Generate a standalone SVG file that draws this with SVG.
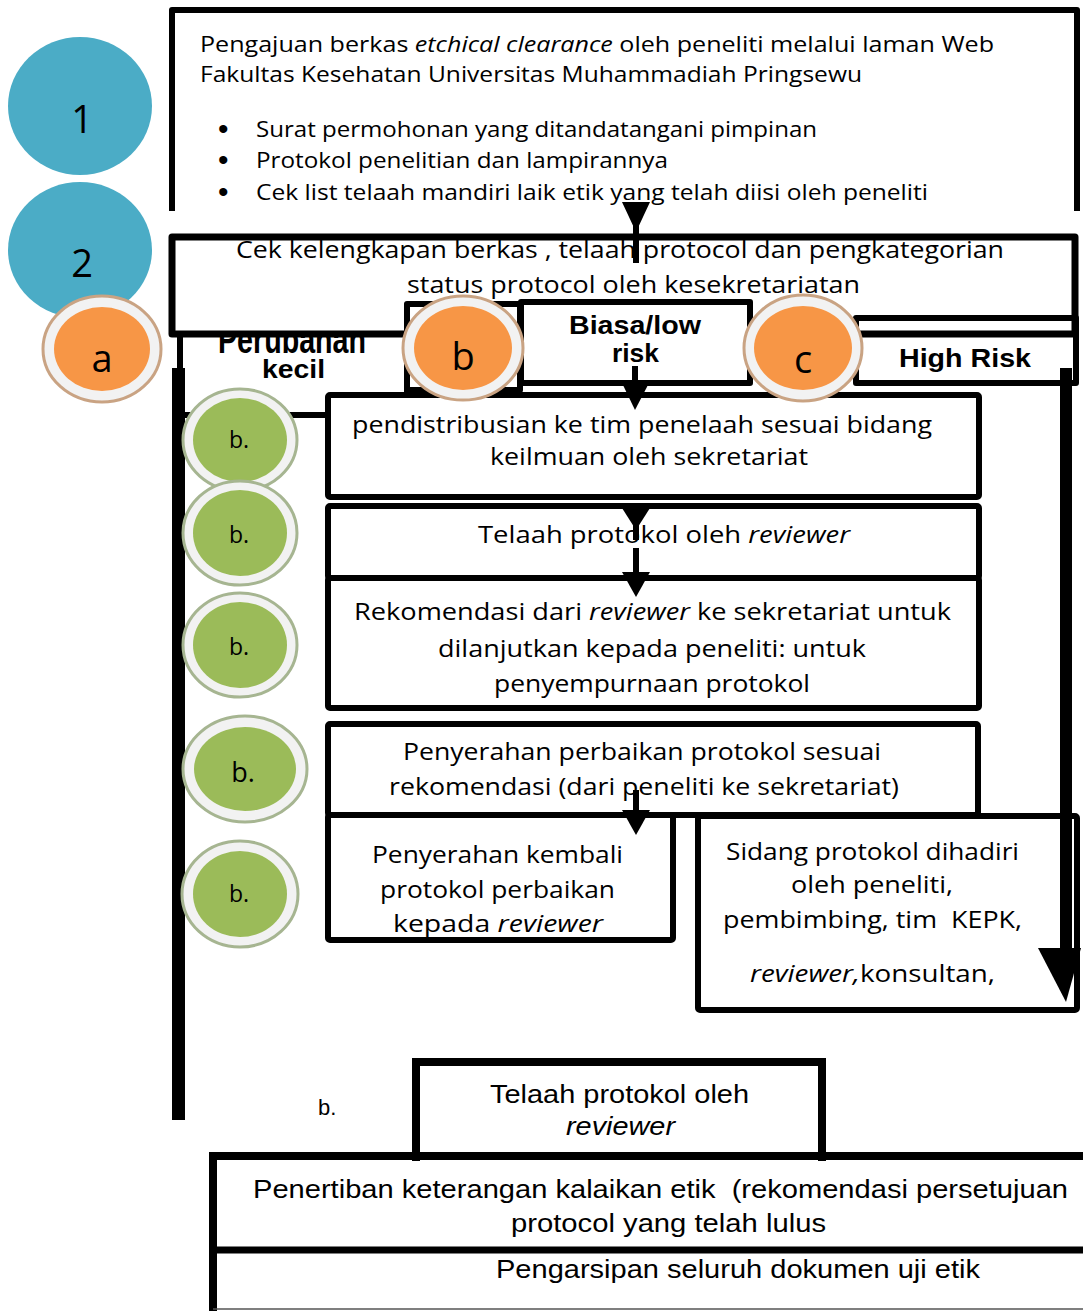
<svg xmlns="http://www.w3.org/2000/svg" width="1083" height="1311" viewBox="0 0 1083 1311">
<defs>
<style>
.bx{fill:#fff;stroke:#000;stroke-width:6;stroke-linejoin:round}
.bxn{fill:none;stroke:#000;stroke-width:6;stroke-linejoin:round}
.t{font-family:"Open Sans","Noto Sans",sans-serif;font-size:23px;fill:#000}
.tb{font-family:"Open Sans","Noto Sans",sans-serif;font-size:22px;fill:#000}
.bul{font-family:"Liberation Sans",Arial,sans-serif;font-size:30px;fill:#000}
.hb{font-family:"Liberation Sans",Arial,sans-serif;font-weight:bold;font-size:26px;fill:#000}
.ar{font-family:"Liberation Sans",Arial,sans-serif;font-size:26px;fill:#000}
.i{font-style:italic}
.big{font-family:"Open Sans","Noto Sans",sans-serif;font-size:38px;fill:#000;text-anchor:middle}
.lbl{font-family:"Open Sans","Noto Sans",sans-serif;font-size:23px;fill:#000;text-anchor:middle}
.teal{fill:#4BACC6}
.ringO{fill:#F2F2F2;stroke:#C9A383;stroke-width:3}
.or{fill:#F79646}
.ringG{fill:#F2F2F2;stroke:#A6B591;stroke-width:3}
.gr{fill:#9BBB59}
.ln{stroke:#000;stroke-width:6;fill:none}
</style>
</defs>

<!-- Top box (open bottom) -->
<g id="node-pengajuan">
<path class="bxn" d="M172,211 V10 H1077 V211"/>
<text class="tb" x="200" y="52" textLength="794" lengthAdjust="spacingAndGlyphs">Pengajuan berkas <tspan class="i">etchical clearance</tspan> oleh peneliti melalui laman Web</text>
<text class="tb" x="200" y="82" textLength="662" lengthAdjust="spacingAndGlyphs">Fakultas Kesehatan Universitas Muhammadiah Pringsewu</text>
<text class="bul" x="218" y="139">•</text>
<text class="bul" x="218" y="170">•</text>
<text class="bul" x="218" y="202">•</text>
<text class="tb" x="256" y="137" textLength="561" lengthAdjust="spacingAndGlyphs">Surat permohonan yang ditandatangani pimpinan</text>
<text class="tb" x="256" y="168" textLength="412" lengthAdjust="spacingAndGlyphs">Protokol penelitian dan lampirannya</text>
<text class="tb" x="256" y="200" textLength="672" lengthAdjust="spacingAndGlyphs">Cek list telaah mandiri laik etik yang telah diisi oleh peneliti</text>
</g>

<!-- Perubahan kecil box (partly covered) -->
<g id="node-perubahan">
<rect class="bx" x="180" y="333" width="227" height="82"/>
<text class="hb" transform="translate(218,353) scale(1,1.5)" x="0" y="0" textLength="148" lengthAdjust="spacingAndGlyphs">Perubahan</text>
</g>

<!-- Cek kelengkapan box -->
<g id="node-cek">
<rect class="bx" x="172" y="237" width="903" height="97" style="stroke-width:7"/>
<text class="t" x="236" y="258" textLength="768" lengthAdjust="spacingAndGlyphs">Cek kelengkapan berkas , telaah protocol dan pengkategorian</text>
<text class="t" x="407" y="293" textLength="453" lengthAdjust="spacingAndGlyphs">status protocol oleh kesekretariatan</text>
</g>

<g id="node-kecil">
<text class="hb" x="262" y="378" textLength="63" lengthAdjust="spacingAndGlyphs">kecil</text>
</g>

<!-- b square -->
<g id="node-b-box">
<rect class="bx" x="407" y="304" width="113" height="86"/>
</g>

<!-- Biasa/low risk -->
<g id="node-biasa">
<rect class="bx" x="521" y="302" width="229" height="81"/>
<text class="hb" x="569" y="334" textLength="132" lengthAdjust="spacingAndGlyphs">Biasa/low</text>
<text class="hb" x="612" y="362" textLength="47" lengthAdjust="spacingAndGlyphs">risk</text>
</g>

<!-- High Risk -->
<g id="node-high">
<rect class="bxn" x="856" y="318" width="220" height="65"/>
<text class="hb" x="899" y="367" textLength="132" lengthAdjust="spacingAndGlyphs">High Risk</text>
</g>

<!-- pendistribusian -->
<g id="node-pendistribusian">
<rect class="bx" x="328" y="395" width="651" height="102" rx="2"/>
<text class="t" x="352" y="433" textLength="580" lengthAdjust="spacingAndGlyphs">pendistribusian ke tim penelaah sesuai bidang</text>
<text class="t" x="490" y="465" textLength="318" lengthAdjust="spacingAndGlyphs">keilmuan oleh sekretariat</text>
</g>

<!-- Telaah protokol -->
<g id="node-telaah">
<rect class="bx" x="328" y="506" width="651" height="72" rx="2"/>
<text class="t" x="478" y="543" textLength="372" lengthAdjust="spacingAndGlyphs">Telaah protokol oleh <tspan class="i">reviewer</tspan></text>
</g>

<!-- Rekomendasi -->
<g id="node-rekomendasi">
<rect class="bx" x="328" y="578" width="651" height="130" rx="2"/>
<text class="t" x="354" y="620" textLength="597" lengthAdjust="spacingAndGlyphs">Rekomendasi dari <tspan class="i">reviewer</tspan> ke sekretariat untuk</text>
<text class="t" x="438" y="657" textLength="428" lengthAdjust="spacingAndGlyphs">dilanjutkan kepada peneliti: untuk</text>
<text class="t" x="494" y="692" textLength="316" lengthAdjust="spacingAndGlyphs">penyempurnaan protokol</text>
</g>

<!-- Penyerahan perbaikan -->
<g id="node-penyerahan">
<rect class="bx" x="328" y="724" width="650" height="91" rx="2"/>
<text class="t" x="403" y="760" textLength="478" lengthAdjust="spacingAndGlyphs">Penyerahan perbaikan protokol sesuai</text>
<text class="t" x="389" y="795" textLength="510" lengthAdjust="spacingAndGlyphs">rekomendasi (dari peneliti ke sekretariat)</text>
</g>

<!-- Penyerahan kembali -->
<g id="node-kembali">
<rect class="bx" x="328" y="815" width="345" height="125" rx="2"/>
<text class="t" x="372" y="863" textLength="251" lengthAdjust="spacingAndGlyphs">Penyerahan kembali</text>
<text class="t" x="380" y="898" textLength="235" lengthAdjust="spacingAndGlyphs">protokol perbaikan</text>
<text class="t" x="393" y="932" textLength="210" lengthAdjust="spacingAndGlyphs">kepada <tspan class="i">reviewer</tspan></text>
</g>

<!-- Sidang -->
<g id="node-sidang">
<rect class="bx" x="698" y="816" width="379" height="194" rx="2"/>
<text class="t" x="726" y="860" textLength="293" lengthAdjust="spacingAndGlyphs">Sidang protokol dihadiri</text>
<text class="t" x="791" y="893" textLength="162" lengthAdjust="spacingAndGlyphs">oleh peneliti,</text>
<text class="t" x="723" y="928" textLength="299" lengthAdjust="spacingAndGlyphs">pembimbing, tim &#160;KEPK,</text>
<text class="t" x="750" y="982" textLength="245" lengthAdjust="spacingAndGlyphs"><tspan class="i">reviewer,</tspan>konsultan,</text>
</g>

<!-- Bottom boxes -->
<g id="node-penertiban">
<path d="M213,1311 V1156 H1083" stroke="#000" stroke-width="8" fill="none"/>
<line x1="213" y1="1250" x2="1083" y2="1250" stroke="#000" stroke-width="7"/>
<line x1="213" y1="1309" x2="1083" y2="1309" stroke="#555" stroke-width="1.5"/>
<text class="ar" x="253" y="1198" textLength="815" lengthAdjust="spacingAndGlyphs">Penertiban keterangan kalaikan etik &#160;(rekomendasi persetujuan</text>
<text class="ar" x="511" y="1232" textLength="315" lengthAdjust="spacingAndGlyphs">protocol yang telah lulus</text>
<text class="ar" x="496" y="1278" textLength="484" lengthAdjust="spacingAndGlyphs">Pengarsipan seluruh dokumen uji etik</text>
</g>

<g id="node-telaah-bottom">
<path d="M416,1161 V1062 H822 V1161" stroke="#000" stroke-width="8" fill="none"/>
<text class="ar" x="490" y="1103" textLength="259" lengthAdjust="spacingAndGlyphs">Telaah protokol oleh</text>
<text class="ar i" x="566" y="1135" textLength="109" lengthAdjust="spacingAndGlyphs">reviewer</text>
</g>

<g id="node-b-bottom">
<text class="ar" x="318" y="1115" style="font-size:22px">b.</text>
</g>

<!-- Connectors -->
<g id="connectors">
<rect x="172" y="368" width="13" height="752" fill="#000"/>
<line class="ln" x1="636" y1="202" x2="636" y2="263"/>
<polygon points="622,202 650,202 636,232" fill="#000"/>
<line class="ln" x1="635" y1="366" x2="635" y2="388"/>
<polygon points="622,383 649,383 635,410" fill="#000"/>
<polygon points="622,508 650,508 636,530" fill="#000"/>
<line class="ln" x1="636" y1="510" x2="636" y2="540"/>
<line class="ln" x1="636" y1="548" x2="636" y2="576"/>
<polygon points="622,572 650,572 636,597" fill="#000"/>
<line class="ln" x1="636" y1="790" x2="636" y2="814"/>
<polygon points="622,810 650,810 636,835" fill="#000"/>
<rect x="1060" y="368" width="12" height="582" fill="#000"/>
<polygon points="1038,948 1081,948 1066,1002" fill="#000"/>
</g>

<!-- Circles -->
<g id="node-1">
<ellipse class="teal" cx="80" cy="106" rx="72" ry="69"/>
<text class="big" x="82" y="133">1</text>
</g>
<g id="node-2">
<ellipse class="teal" cx="80" cy="250" rx="72" ry="68"/>
<text class="big" x="82" y="277">2</text>
</g>
<g id="node-a">
<ellipse class="ringO" cx="102" cy="349" rx="59" ry="53"/>
<ellipse class="or" cx="102" cy="349" rx="48" ry="42"/>
<text class="big" x="102" y="372">a</text>
</g>
<g id="node-b">
<ellipse class="ringO" cx="463" cy="348" rx="60" ry="52"/>
<ellipse class="or" cx="463" cy="348" rx="49" ry="42"/>
<text class="big" x="463" y="370">b</text>
</g>
<g id="node-c">
<ellipse class="ringO" cx="803" cy="348" rx="59" ry="53"/>
<ellipse class="or" cx="803" cy="348" rx="49" ry="42"/>
<text class="big" x="803" y="373">c</text>
</g>

<g id="node-g1">
<ellipse class="ringG" cx="240" cy="440" rx="57" ry="51"/>
<ellipse class="gr" cx="240" cy="440" rx="47" ry="42"/>
<text class="lbl" x="239" y="448">b.</text>
</g>
<g id="node-g2">
<ellipse class="ringG" cx="240" cy="533" rx="57" ry="52"/>
<ellipse class="gr" cx="240" cy="533" rx="47" ry="43"/>
<text class="lbl" x="239" y="543">b.</text>
</g>
<g id="node-g3">
<ellipse class="ringG" cx="240" cy="645" rx="57" ry="52"/>
<ellipse class="gr" cx="240" cy="645" rx="47" ry="43"/>
<text class="lbl" x="239" y="655">b.</text>
</g>
<g id="node-g4">
<ellipse class="ringG" cx="245" cy="769" rx="62" ry="53"/>
<ellipse class="gr" cx="245" cy="769" rx="51" ry="42"/>
<text class="lbl" x="243" y="782" style="font-size:27px">b.</text>
</g>
<g id="node-g5">
<ellipse class="ringG" cx="240" cy="894" rx="58" ry="53"/>
<ellipse class="gr" cx="240" cy="894" rx="47" ry="43"/>
<text class="lbl" x="239" y="902">b.</text>
</g>
</svg>
